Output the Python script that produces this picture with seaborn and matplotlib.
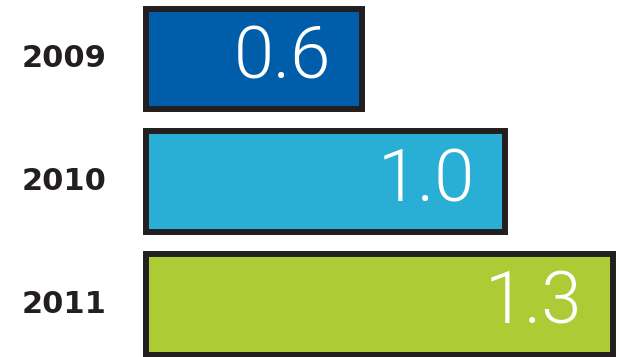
import matplotlib
matplotlib.use("Agg")
import matplotlib.pyplot as plt
import matplotlib.transforms as mtransforms
import seaborn as sns
import pandas as pd

# dados
anos = ["2009", "2010", "2011"]
valores = [0.6, 1.0, 1.3]
rotulos = ["0.6", "1.0", "1.3"]
cores = ["#005DAA", "#29AFD5", "#ADCB34"]

df = pd.DataFrame({"ano": anos, "valor": valores})

sns.set_style("white")
plt.rcParams["font.family"] = ["Roboto", "DejaVu Sans"]

fig = plt.figure(figsize=(6.19, 3.57), dpi=100)
ax = fig.add_axes([0, 0, 1, 1])

sns.barplot(data=df, x="valor", y="ano", hue="ano", palette=cores,
            saturation=1, orient="h", width=0.82, edgecolor="#231F20",
            linewidth=4.3, legend=False, ax=ax)

ax.set_xlim(-0.407, 1.317)
ax.set_ylim(2.43, -0.48)
ax.axis("off")

# anos a esquerda
trans = mtransforms.blended_transform_factory(fig.transFigure, ax.transData)
for i, ano in enumerate(anos):
    ax.text(22 / 619, i, ano, transform=trans, ha="left", va="center",
            fontsize=22, fontweight="black", color="#231F20",
            family=["DejaVu Sans"])

# valores dentro das barras
for i, (v, r) in enumerate(zip(valores, rotulos)):
    ax.text(v - 0.085, i, r, ha="right", va="center", fontsize=52,
            fontweight=300, color="white")

fig.savefig("out.png", dpi=100)
